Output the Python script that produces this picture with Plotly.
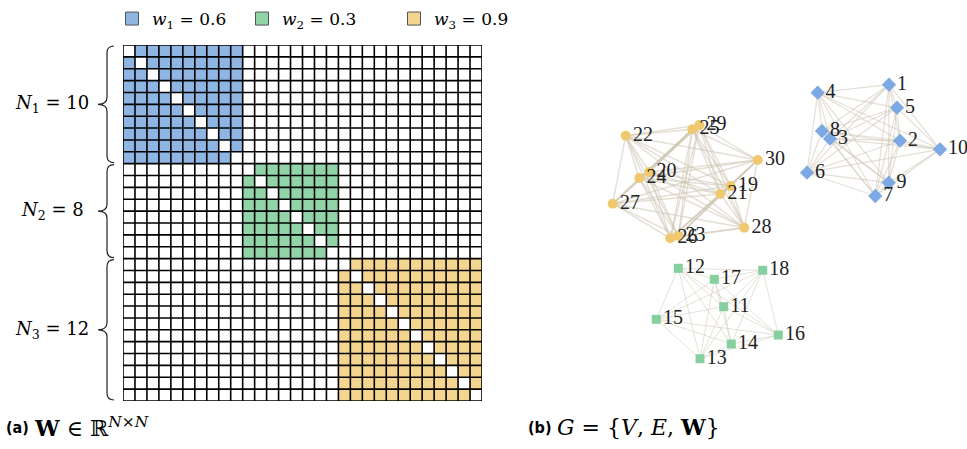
import numpy as np
import plotly.graph_objects as go

# ---- data -------------------------------------------------------------
block_sizes = [10, 8, 12]                 # N1, N2, N3
block_weights = [0.6, 0.3, 0.9]           # w1, w2, w3
block_labels = ["<i>N</i><sub>1</sub> = 10", "<i>N</i><sub>2</sub> = 8", "<i>N</i><sub>3</sub> = 12"]
legend_labels = ["<i>w</i><sub>1</sub> = 0.6", "<i>w</i><sub>2</sub> = 0.3", "<i>w</i><sub>3</sub> = 0.9"]

cell_colors = ["#8fb5e3", "#90d4a8", "#f4d590"]
node_colors = ["#7ca8e4", "#86d09f", "#f0c96f"]
node_symbols = ["diamond", "square", "circle"]
node_sizes = [11, 9, 10]

# node layout of the graph (one entry per node, nodes 1..30)
node_ids = list(range(1, 31))
node_x = [889, 900, 830, 817.7, 897, 807, 875.3, 822, 888.7, 940,
          723.7, 678.3, 700, 731.3, 656.3, 778.3, 714.3, 762.7,
          730.7, 649.3, 720.3, 625.7, 678.3, 639.3, 692.3, 670.3, 612.7, 744.3, 699.3, 757.7]
node_y = [84.7, 140.7, 138.7, 92.7, 107.7, 172.7, 196, 131, 182.7, 149.3,
          306.7, 268.3, 358.7, 344, 319.3, 335, 279.3, 270.3,
          186, 172, 194, 135.7, 236, 178, 129.3, 238.3, 203.7, 227.7, 125, 160]

# ---- canvas geometry ----------------------------------------------------
W_PX, H_PX = 967, 449
MX0, MX1, MY0, MY1 = 123, 482, 45, 401     # matrix frame in pixels
GX0, GX1, GY0, GY1 = 590, 967, 70, 380     # graph panel in pixels


def px(x):
    return x / W_PX


def py(y):
    return 1 - y / H_PX


N = sum(block_sizes)
starts = np.cumsum([0] + block_sizes[:-1])

# weighted adjacency matrix: complete blocks without self loops
W = np.zeros((N, N))
for s, n, w in zip(starts, block_sizes, block_weights):
    W[s:s + n, s:s + n] = w
np.fill_diagonal(W, 0)

# weight -> colour (0 white, 0.3 green, 0.6 blue, 0.9 yellow)
colorscale = [[0, "white"], [0.25, "white"],
              [0.25, cell_colors[1]], [0.5, cell_colors[1]],
              [0.5, cell_colors[0]], [0.75, cell_colors[0]],
              [0.75, cell_colors[2]], [1, cell_colors[2]]]

fig = go.Figure()
fig.add_trace(go.Heatmap(z=W, x=list(range(N)), y=list(range(N)), zmin=-0.15, zmax=1.05,
                         colorscale=colorscale, showscale=False, hoverinfo="skip",
                         xaxis="x", yaxis="y"))

# legend entries for the three weights
for k in range(3):
    fig.add_trace(go.Scatter(x=[None], y=[None], mode="markers", name=legend_labels[k],
                             marker=dict(symbol="square", size=13, color=cell_colors[k],
                                         line=dict(color="#555555", width=1)),
                             legend="legend" if k == 0 else f"legend{k + 1}",
                             xaxis="x", yaxis="y"))

# graph edges: every pair inside a block, weight sets the stroke
SERIF = "DejaVu Serif"
for b, (s, n, w) in enumerate(zip(starts, block_sizes, block_weights)):
    ex, ey = [], []
    for i in range(s, s + n):
        for j in range(i + 1, s + n):
            if W[i, j] > 0:
                ex += [node_x[i], node_x[j], None]
                ey += [node_y[i], node_y[j], None]
    fig.add_trace(go.Scatter(x=ex, y=ey, mode="lines", showlegend=False, hoverinfo="skip",
                             line=dict(color="rgba(205,196,178,0.55)", width=0.7 + 0.8 * w),
                             xaxis="x2", yaxis="y2"))

for b, (s, n) in enumerate(zip(starts, block_sizes)):
    idx = range(s, s + n)
    fig.add_trace(go.Scatter(x=[node_x[i] for i in idx], y=[node_y[i] for i in idx],
                             mode="markers+text", text=[str(node_ids[i]) for i in idx],
                             textposition="middle right", showlegend=False, cliponaxis=False,
                             textfont=dict(family="Liberation Serif", size=20, color="#222222"),
                             marker=dict(symbol=node_symbols[b], size=node_sizes[b],
                                         color=node_colors[b]),
                             xaxis="x2", yaxis="y2"))

shapes = []
# grid lines of the matrix
for i in range(N + 1):
    shapes.append(dict(type="line", xref="x", yref="y", x0=i - 0.5, x1=i - 0.5, y0=-0.5, y1=N - 0.5,
                       line=dict(color="black", width=1.6), layer="above"))
    shapes.append(dict(type="line", xref="x", yref="y", y0=i - 0.5, y1=i - 0.5, x0=-0.5, x1=N - 0.5,
                       line=dict(color="black", width=1.6), layer="above"))

# curly braces with the block sizes
cell_h = (MY1 - MY0) / N
annotations = []
for s, n, lab in zip(starts, block_sizes, block_labels):
    top = MY0 + s * cell_h + 1
    bot = MY0 + (s + n) * cell_h - 1
    mid = (top + bot) / 2
    xe, xb, xt = 114, 107, 98
    r = 7
    pts = [("M", xe, top), ("Q", xb, top, xb, top + r), ("L", xb, mid - r),
           ("Q", xb, mid, xt, mid), ("Q", xb, mid, xb, mid + r), ("L", xb, bot - r),
           ("Q", xb, bot, xe, bot)]
    path = ""
    for p in pts:
        cmd, vals = p[0], p[1:]
        coords = [f"{px(vals[k]):.5f},{py(vals[k + 1]):.5f}" for k in range(0, len(vals), 2)]
        path += cmd + " " + " ".join(coords) + " "
    shapes.append(dict(type="path", xref="paper", yref="paper", path=path,
                       line=dict(color="#222222", width=1.2)))
    annotations.append(dict(x=px(52), y=py(mid), xref="paper", yref="paper", text=lab,
                            showarrow=False, xanchor="center", yanchor="middle",
                            font=dict(family=SERIF, size=18, color="black")))

# panel captions
cap_y = py(427)
annotations += [
    dict(x=px(4), y=cap_y, xref="paper", yref="paper", text="<b>(a)</b>", showarrow=False,
         xanchor="left", yanchor="middle", font=dict(family="DejaVu Sans Condensed, DejaVu Sans", size=16, color="black")),
    dict(x=px(32), y=cap_y, xref="paper", yref="paper",
         text="<b>W</b> ∈ ℝ<sup><i>N</i>×<i>N</i></sup>", showarrow=False,
         xanchor="left", yanchor="middle", font=dict(family=SERIF, size=22, color="black")),
    dict(x=px(526), y=cap_y, xref="paper", yref="paper", text="<b>(b)</b>", showarrow=False,
         xanchor="left", yanchor="middle", font=dict(family="DejaVu Sans Condensed, DejaVu Sans", size=16, color="black")),
    dict(x=px(555), y=cap_y, xref="paper", yref="paper",
         text="<i>G</i> = {<i>V</i>, <i>E</i>, <b>W</b>}", showarrow=False,
         xanchor="left", yanchor="middle", font=dict(family=SERIF, size=22, color="black")),
]

legend_x = [112, 242, 394]
legends = {}
for k, lx in enumerate(legend_x):
    key = "legend" if k == 0 else f"legend{k + 1}"
    legends[key] = dict(x=px(lx), y=py(1), xanchor="left", yanchor="top", orientation="h",
                        bgcolor="rgba(0,0,0,0)", borderwidth=0,
                        font=dict(family=SERIF, size=17, color="black"))

axis_off = dict(showgrid=False, zeroline=False, showticklabels=False, ticks="", showline=False)
fig.update_layout(
    width=W_PX, height=H_PX, margin=dict(l=0, r=0, t=0, b=0),
    paper_bgcolor="white", plot_bgcolor="rgba(0,0,0,0)",
    xaxis=dict(domain=[px(MX0), px(MX1)], range=[-0.5, N - 0.5], **axis_off),
    yaxis=dict(domain=[py(MY1), py(MY0)], range=[N - 0.5, -0.5], **axis_off),
    xaxis2=dict(domain=[px(GX0), px(GX1)], range=[GX0, GX1], anchor="y2", **axis_off),
    yaxis2=dict(domain=[py(GY1), py(GY0)], range=[GY1, GY0], anchor="x2", **axis_off),
    shapes=shapes, annotations=annotations, **legends,
)

fig.write_html("out.html")
